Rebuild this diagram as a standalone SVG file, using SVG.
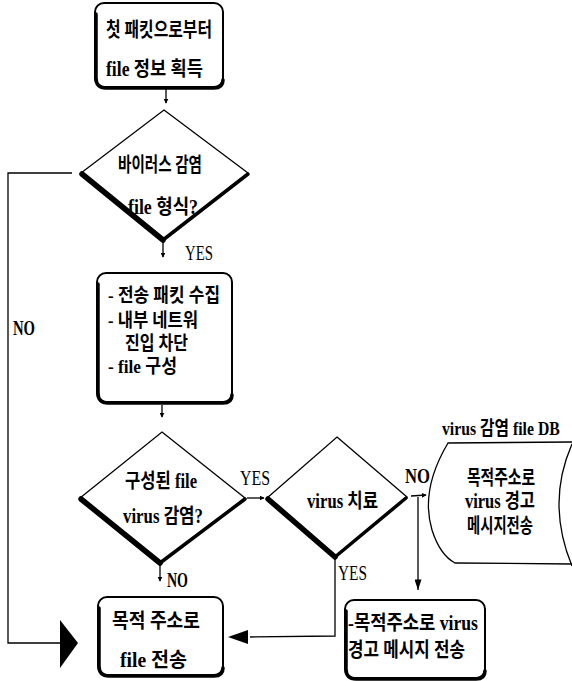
<svg xmlns="http://www.w3.org/2000/svg" width="572" height="681" viewBox="0 0 572 681">
<defs>
<style>
.t{font-family:"Liberation Serif","Noto Sans CJK KR",serif;font-size:20px;font-weight:bold;fill:#000}
.s{font-size:19px}
.l{font-family:"Liberation Serif",serif;font-size:21px;font-weight:normal;fill:#000}
.box{fill:#fff;stroke:#000;stroke-width:2}
.sh{fill:none;stroke:#000;stroke-width:3.5;stroke-linecap:round;stroke-linejoin:round}
.dia{fill:#fff;stroke:#000;stroke-width:1.3;stroke-linejoin:miter}
.thk{fill:none;stroke:#000;stroke-width:5.5;stroke-linecap:round}
.thm{fill:none;stroke:#000;stroke-width:3.5;stroke-linecap:round}
.ln{fill:none;stroke:#000;stroke-width:1.3}
</style>
<marker id="sm" viewBox="0 0 8 8" refX="7" refY="4" markerWidth="5" markerHeight="5" markerUnits="userSpaceOnUse" orient="auto"><path d="M0,0 L8,4 L0,8 Z" fill="#000"/></marker>
<marker id="md" viewBox="0 0 12 8" refX="12" refY="4" markerWidth="13" markerHeight="7" markerUnits="userSpaceOnUse" orient="auto"><path d="M0,0 L12,4 L0,8 Z" fill="#000"/></marker>
</defs>

<g id="box1">
<rect class="box" x="95" y="3" width="128" height="84" rx="9"/>
<path class="sh" d="M96,14 L96,78 Q96,88 106,88 L214,88 Q223,88 223,80"/>
<text class="t" x="106" y="37" textLength="106" lengthAdjust="spacingAndGlyphs">첫 패킷으로부터</text>
<text class="t" x="106" y="76" textLength="97" lengthAdjust="spacingAndGlyphs">file 정보 획득</text>
</g>

<g id="decision1">
<polygon class="dia" points="164,110 248,173 163,240 81,173"/>
<path class="thk" d="M82,174 L163,240"/>
<path class="thm" d="M163,240 L248,174"/>
<text class="t" x="118" y="172" textLength="84" lengthAdjust="spacingAndGlyphs">바이러스 감염</text>
<text class="t" x="128" y="214" textLength="70" lengthAdjust="spacingAndGlyphs">file 형식?</text>
</g>

<g id="box2">
<rect class="box" x="97" y="273" width="135" height="129" rx="9"/>
<path class="sh" d="M98,284 L98,393 Q98,403 108,403 L223,403 Q232,403 232,395"/>
<text class="t s" x="108" y="302" textLength="112" lengthAdjust="spacingAndGlyphs">- 전송 패킷 수집</text>
<text class="t s" x="108" y="327" textLength="90" lengthAdjust="spacingAndGlyphs">- 내부 네트워</text>
<text class="t s" x="125" y="350" textLength="63" lengthAdjust="spacingAndGlyphs">진입 차단</text>
<text class="t s" x="108" y="373" textLength="69" lengthAdjust="spacingAndGlyphs">- file 구성</text>
</g>

<g id="decision2">
<polygon class="dia" points="162,432 245,498 160,563 80,498"/>
<path class="thk" d="M81,499 L160,563"/>
<path class="thm" d="M160,563 L245,499"/>
<text class="t" x="125" y="488" textLength="72" lengthAdjust="spacingAndGlyphs">구성된 file</text>
<text class="t" x="123" y="523" textLength="80" lengthAdjust="spacingAndGlyphs">virus 감염?</text>
</g>

<g id="decision3">
<polygon class="dia" points="337,437 407,497 335,557 267,498"/>
<path class="thk" d="M268,499 L335,557"/>
<path class="thm" d="M335,557 L406,498"/>
<text class="t" x="307" y="508" textLength="71" lengthAdjust="spacingAndGlyphs">virus 치료</text>
</g>

<g id="db">
<text class="t s" transform="translate(442,435) scale(0.83,1)" x="0" y="0">virus 감염 file DB</text>
<path class="ln" d="M572,442 L448,443 Q420,490 432,530 Q440,555 455,563 L572,564"/>
<path class="ln" d="M572,444 Q546,503 572,566"/>
<text class="t" x="467" y="485" textLength="68" lengthAdjust="spacingAndGlyphs">목적주소로</text>
<text class="t" x="465" y="508" textLength="70" lengthAdjust="spacingAndGlyphs">virus 경고</text>
<text class="t" x="467" y="533" textLength="66" lengthAdjust="spacingAndGlyphs">메시지전송</text>
</g>

<g id="box4">
<rect class="box" x="98" y="597" width="125" height="78" rx="9"/>
<path class="sh" d="M99,608 L99,666 Q99,676 109,676 L214,676 Q223,676 223,668"/>
<text class="t" x="112" y="628" textLength="88" lengthAdjust="spacingAndGlyphs">목적 주소로</text>
<text class="t" x="120" y="667" textLength="67" lengthAdjust="spacingAndGlyphs">file 전송</text>
</g>

<g id="box5">
<rect class="box" x="345" y="600" width="140" height="78" rx="9"/>
<path class="sh" d="M346,611 L346,669 Q346,679 356,679 L476,679 Q485,679 485,671"/>
<text class="t" x="348" y="630" textLength="130" lengthAdjust="spacingAndGlyphs">-목적주소로 virus</text>
<text class="t" x="348" y="657" textLength="117" lengthAdjust="spacingAndGlyphs">경고 메시지 전송</text>
</g>

<g id="connectors">
<path class="ln" d="M166,89 L166,103" marker-end="url(#sm)"/>
<path class="ln" d="M163,242 L163,257" marker-end="url(#sm)"/>
<path class="ln" d="M162,405 L162,417" marker-end="url(#sm)"/>
<path class="ln" d="M160,565 L160,581" marker-end="url(#sm)"/>
<path class="ln" d="M247,498 L264,498" marker-end="url(#sm)"/>
<path class="ln" d="M411,496 L426,495" marker-end="url(#sm)"/>
<path class="ln" d="M418,497 L418,590" marker-end="url(#md)"/>
<path class="ln" d="M72,173 L8,173 L8,643 L62,643"/>
<polygon points="60,620 78,643 60,668" fill="#000"/>
<path class="ln" d="M335,559 L335,636 L250,637"/>
<polygon points="228,637 248,630 248,644" fill="#000"/>
<text class="l" x="185" y="260" textLength="28" lengthAdjust="spacingAndGlyphs">YES</text>
<text class="t" x="13" y="335" textLength="22" lengthAdjust="spacingAndGlyphs">NO</text>
<text class="l" x="240" y="485" textLength="30" lengthAdjust="spacingAndGlyphs">YES</text>
<text class="t" x="167" y="587" textLength="21" lengthAdjust="spacingAndGlyphs">NO</text>
<text class="l" x="338" y="580" textLength="29" lengthAdjust="spacingAndGlyphs">YES</text>
<text class="t" x="405" y="483" textLength="25" lengthAdjust="spacingAndGlyphs">NO</text>
</g>
</svg>
